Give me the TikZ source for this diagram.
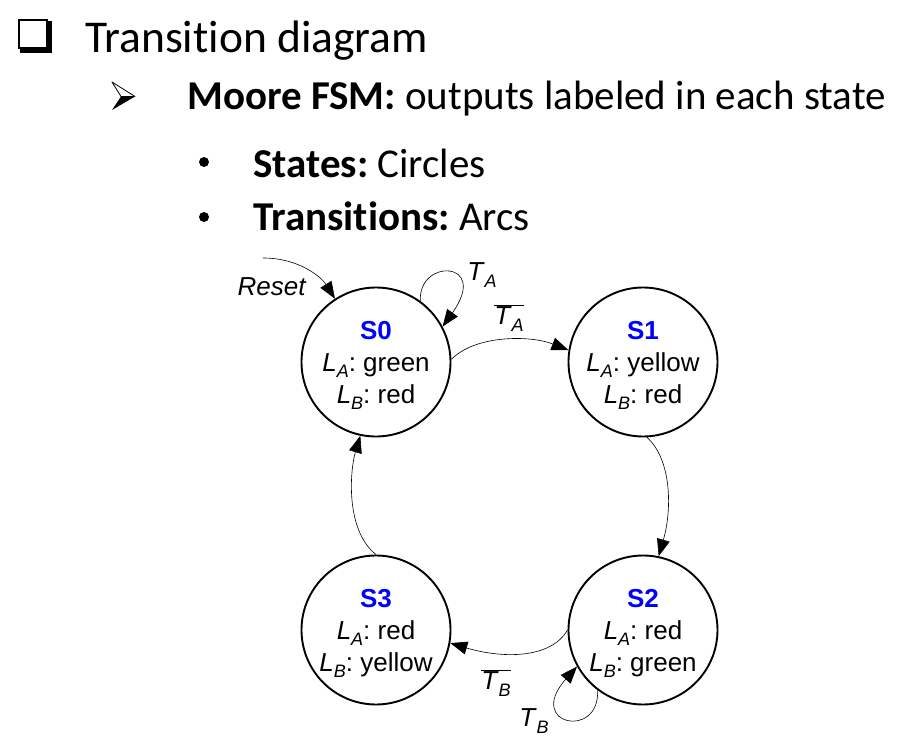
\documentclass[tikz,border=0pt]{standalone}
\usepackage{fontspec}
\setmainfont{Carlito}[Ligatures=NoCommon]
\newfontfamily\arialfont{Liberation Sans}
\usetikzlibrary{arrows.meta}
\definecolor{stateblue}{RGB}{0,0,255}
\frenchspacing
% italic signal name with a lowered italic subscript
\newcommand{\sig}[2]{\textit{#1}\raisebox{-0.24em}{\fontsize{18}{18}\selectfont\itshape #2}}
\newcommand{\notsig}[2]{$\overline{\mbox{\sig{#1}{#2}}}$}
% state name line, with a strut that balances the subscript depth below
\newcommand{\stname}[1]{\rule{0pt}{25pt}\textbf{\color{stateblue}#1}}

\begin{document}
\begin{tikzpicture}[x=1pt,y=-1pt,
  state/.style={circle,draw,line width=1.9pt,minimum size=149pt,inner sep=0pt,
    align=center,font=\arialfont\fontsize{26}{32}\selectfont},
  trans/.style={line width=0.6pt,-{Triangle[length=17pt,width=13pt]}},
  lbl/.style={font=\arialfont\fontsize{26}{30}\selectfont,inner sep=0pt},
  heading/.style={anchor=base west,inner sep=0pt,font=\fontsize{45.5}{50}\selectfont},
  item/.style={anchor=base west,inner sep=0pt,font=\fontsize{41}{46}\selectfont},
  dot/.style={circle,fill,inner sep=0pt,minimum size=10pt}]

\useasboundingbox (0,0) rectangle (898,749);

% slide bullets
\draw[line width=2pt] (19,20) rectangle (47,48);
\fill (20,47) rectangle (52,53);
\fill (46,21) rectangle (52,53);
\node[heading] (title) at (85,53) {Transition diagram};

\draw[line width=0.8pt, fill=white, line join=round] (112,82) -- (135,96.5) -- (121,96.5) -- cycle;
\fill[line join=round] (121,96.5) -- (135,96.5) -- (112,110) -- cycle;
\node[item] (moore) at (187,110) {\textbf{Moore FSM:} outputs labeled in each state};

\node[dot] (b1) at (204,162) {};
\node[item] (states) at (253,178) {\textbf{States:} Circles};
\node[dot] (b2) at (204,217) {};
\node[item] (trans) at (253,231) {\textbf{Transitions:} Arcs};

% states
\node[state] (s0) at (376,362) {\stname{S0}\\\sig{L}{A}: green\\\sig{L}{B}: red};
\node[state] (s1) at (643,362) {\stname{S1}\\\sig{L}{A}: yellow\\\sig{L}{B}: red};
\node[state] (s2) at (643,630) {\stname{S2}\\\sig{L}{A}: red\\\sig{L}{B}: green};
\node[state] (s3) at (376,630) {\stname{S3}\\\sig{L}{A}: red\\\sig{L}{B}: yellow};

% transitions
\coordinate (rst) at (263,258);
\draw[trans] (rst) .. controls (300,258) and (322,278) .. (s0.123);
\node[lbl] (rstlbl) at (272,287) {\textit{Reset}};

\draw[trans] (s0.54) .. controls (418,258) and (490,260) .. (s0.28);
\node[lbl] (ta) at (482,275) {\sig{T}{A}};

\draw[trans] (s0.2) .. controls (475,335) and (530,335) .. (s1.171);
\node[lbl] (nta) at (509,318) {\notsig{T}{A}};

\draw[trans] (s1.-87) .. controls (672,460) and (672,510) .. (s2.78);

\draw[trans] (s2.180) .. controls (550,660) and (500,658) .. (s3.-10);
\node[lbl] (ntb) at (496,683) {\notsig{T}{B}};

\draw[trans] (s2.233) .. controls (600,740) and (525,725) .. (s2.209);
\node[lbl] (tb) at (534,721) {\sig{T}{B}};

\draw[trans] (s3.90) .. controls (345,530) and (350,470) .. (s0.258);
\end{tikzpicture}
\end{document}
